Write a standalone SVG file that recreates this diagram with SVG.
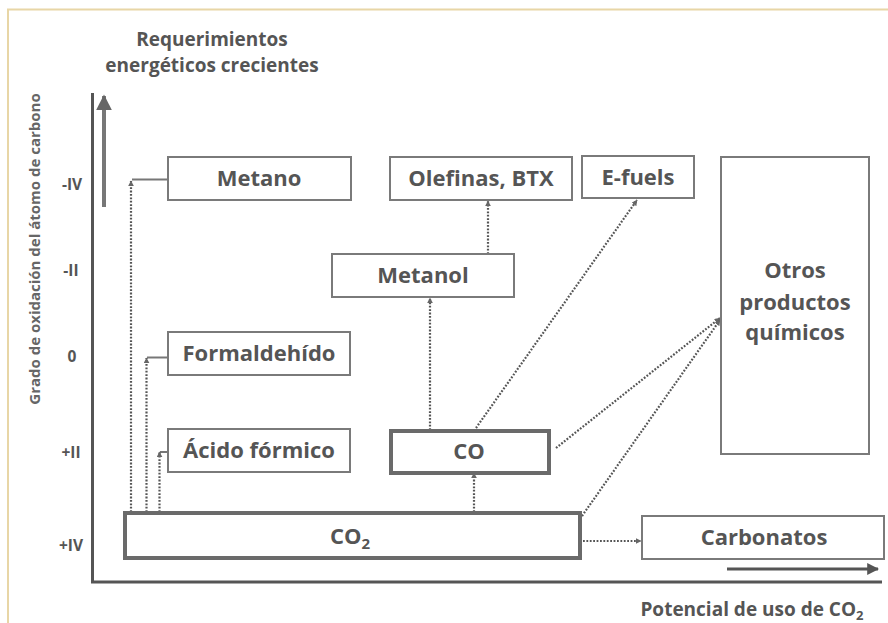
<svg xmlns="http://www.w3.org/2000/svg" width="888" height="623" viewBox="0 0 888 623">
<style>
text{font-family:"Open Sans","Liberation Sans",sans-serif;font-weight:bold;fill:#555}
.box{fill:#fff;stroke:#7a7a7a;stroke-width:2}
.boxt{fill:#fff;stroke:#6a6a6a;stroke-width:4}
.lbl{font-size:22px;text-anchor:middle}
.ax{font-size:15.5px;text-anchor:middle;fill:#555}
.ttl{font-size:19px;text-anchor:middle}
.dot{fill:none;stroke:#555;stroke-width:2.2;stroke-dasharray:1.8 1.6;marker-end:url(#ah)}
.sol{fill:none;stroke:#777;stroke-width:2}
</style>
<defs>
<marker id="ah" viewBox="0 0 10 10" refX="9" refY="5" markerWidth="6" markerHeight="6" orient="auto" markerUnits="userSpaceOnUse">
<path d="M0,0 L10,5 L0,10 z" fill="#666"/>
</marker>
<marker id="ah2" viewBox="0 0 10 10" refX="9" refY="5" markerWidth="4" markerHeight="4" orient="auto">
<path d="M0,0 L10,5 L0,10 z" fill="#666"/>
</marker>
<marker id="ah3" viewBox="0 0 10 10" refX="9" refY="5" markerWidth="4" markerHeight="4" orient="auto">
<path d="M0,0 L10,5 L0,10 z" fill="#555"/>
</marker>
</defs>
<rect width="888" height="623" fill="#fff"/>
<path d="M8,623 V9.5 H888" fill="none" stroke="#e8d6a6" stroke-width="2"/>
<g id="axes">
<path d="M92.5,93 V582 H882" fill="none" stroke="#555" stroke-width="3"/>
<line x1="104" y1="207" x2="104" y2="96" stroke="#777" stroke-width="4" marker-end="url(#ah2)"/>
<line x1="727" y1="569" x2="878" y2="569" stroke="#555" stroke-width="3" marker-end="url(#ah3)"/>
<text class="ttl" x="212" y="46">Requerimientos</text>
<text class="ttl" x="212" y="72">energéticos crecientes</text>
<text class="ttl" x="752" y="616">Potencial de uso de CO<tspan dy="4" font-size="13">2</tspan></text>
<text transform="translate(40,249) rotate(-90)" style="font-size:15px;text-anchor:middle;fill:#666">Grado de oxidación del átomo de carbono</text>
<text class="ax" x="72" y="190">-IV</text>
<text class="ax" x="71" y="276">-II</text>
<text class="ax" x="72" y="362">0</text>
<text class="ax" x="71" y="458">+II</text>
<text class="ax" x="71" y="551">+IV</text>
</g>
<g id="connectors">
<path class="sol" d="M168,179.5 H132"/>
<path class="dot" d="M131,512 V181"/>
<path class="sol" d="M168,357.5 H147"/>
<path class="dot" d="M146.5,512 V358"/>
<path class="sol" d="M168,452 H160"/>
<path class="dot" d="M159.5,512 V452"/>
<path class="dot" d="M474,512 V473"/>
<path class="dot" d="M430,430 V298"/>
<path class="dot" d="M488,254 V201"/>
<path class="dot" d="M476,428 L637,200"/>
<path class="dot" d="M556,448 L720,318"/>
<path class="dot" d="M582,516 L720,320"/>
<path class="dot" d="M583,541 H641"/>
</g>
<g id="metano"><rect class="box" x="168" y="157" width="183" height="43"/><text class="lbl" x="259" y="186">Metano</text></g>
<g id="olefinas"><rect class="box" x="390" y="157" width="182" height="43"/><text class="lbl" x="481" y="186">Olefinas, BTX</text></g>
<g id="efuels"><rect class="box" x="582" y="156" width="112" height="42"/><text class="lbl" x="638" y="185">E-fuels</text></g>
<g id="otros"><rect class="box" x="721" y="157" width="148" height="297"/><text class="lbl" x="795" y="278">Otros</text><text class="lbl" x="795" y="310">productos</text><text class="lbl" x="795" y="340">químicos</text></g>
<g id="metanol"><rect class="box" x="332" y="254" width="182" height="43"/><text class="lbl" x="423" y="283">Metanol</text></g>
<g id="formaldehido"><rect class="box" x="168" y="332" width="182" height="43"/><text class="lbl" x="259" y="361">Formaldehído</text></g>
<g id="acido"><rect class="box" x="168" y="429" width="182" height="43"/><text class="lbl" x="259" y="458">Ácido fórmico</text></g>
<g id="co"><rect class="boxt" x="391" y="431" width="158" height="42"/><text class="lbl" x="469" y="459">CO</text></g>
<g id="co2"><rect class="boxt" x="125" y="513" width="455" height="45"/><text class="lbl" x="350" y="544">CO<tspan dy="5" font-size="15">2</tspan></text></g>
<g id="carbonatos"><rect class="box" x="642" y="516" width="242" height="43"/><text class="lbl" x="764" y="545">Carbonatos</text></g>
</svg>
